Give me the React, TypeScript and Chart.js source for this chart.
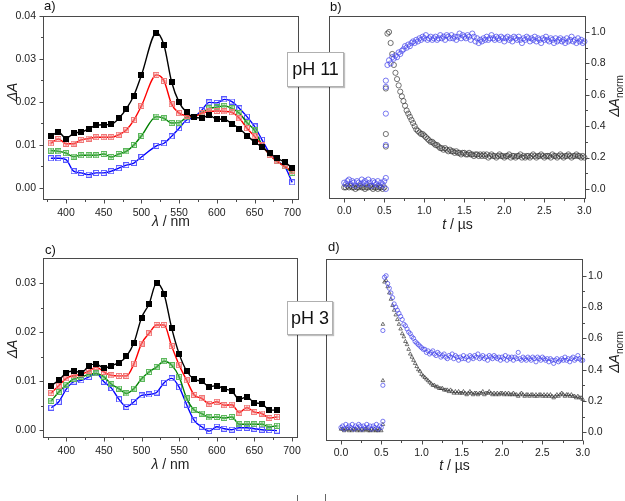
import React, { useEffect, useRef } from 'react';
import { Chart, registerables } from 'chart.js';
Chart.register(...registerables);

const FONT = '"Liberation Sans", Arial, Helvetica, sans-serif';
const FRAME = '#4a4a4a';
const TXT = '#222';

// ---------- Panel a (pH 11 spectra) ----------
const WL_A = [380,390,400,410,420,430,440,450,460,470,480,490,500,520,530,540,550,560,570,580,590,600,610,620,630,640,650,660,670,680,690,700];
const A_BLACK = [0.0120,0.0130,0.0115,0.0127,0.0130,0.0137,0.0146,0.0147,0.0148,0.0162,0.0184,0.0215,0.0262,0.0361,0.0332,0.0247,0.0199,0.0176,0.0164,0.0163,0.0169,0.0160,0.0160,0.0149,0.0138,0.0122,0.0107,0.0095,0.0081,0.0069,0.0060,0.0047];
const A_RED = [0.0104,0.0114,0.0103,0.0103,0.0112,0.0115,0.0118,0.0118,0.0118,0.0124,0.0135,0.0158,0.0191,0.0263,0.0249,0.0195,0.0174,0.0168,0.0166,0.0174,0.0178,0.0179,0.0178,0.0176,0.0162,0.0139,0.0120,0.0099,0.0077,0.0062,0.0050,0.0039];
const A_GREEN = [0.0087,0.0085,0.0081,0.0073,0.0076,0.0076,0.0076,0.0079,0.0072,0.0079,0.0085,0.0100,0.0121,0.0166,0.0162,0.0151,0.0152,0.0164,0.0166,0.0175,0.0185,0.0188,0.0191,0.0185,0.0174,0.0152,0.0134,0.0100,0.0077,0.0062,0.0050,0.0035];
const A_BLUE = [0.0069,0.0069,0.0066,0.0039,0.0035,0.0031,0.0035,0.0035,0.0039,0.0046,0.0053,0.0058,0.0072,0.0098,0.0104,0.0120,0.0139,0.0158,0.0164,0.0181,0.0199,0.0198,0.0206,0.0201,0.0185,0.0166,0.0143,0.0112,0.0081,0.0062,0.0050,0.0013];

// ---------- Panel c (pH 3 spectra) ----------
const WL_C = [380,390,400,410,420,430,440,450,460,470,480,490,500,510,520,530,540,550,560,570,580,590,600,610,620,630,640,650,660,670,680];
const C_BLACK = [0.0091,0.0102,0.0117,0.0121,0.0117,0.0132,0.0135,0.0127,0.0132,0.0138,0.0151,0.0179,0.0230,0.0258,0.0301,0.0278,0.0209,0.0156,0.0121,0.0104,0.0100,0.0089,0.0091,0.0084,0.0080,0.0063,0.0068,0.0056,0.0054,0.0041,0.0041];
const C_RED = [0.0076,0.0091,0.0106,0.0112,0.0114,0.0121,0.0129,0.0119,0.0112,0.0111,0.0111,0.0136,0.0177,0.0198,0.0215,0.0215,0.0172,0.0133,0.0102,0.0072,0.0065,0.0054,0.0058,0.0051,0.0052,0.0036,0.0046,0.0037,0.0034,0.0025,0.0027];
const C_GREEN = [0.0060,0.0078,0.0093,0.0105,0.0109,0.0114,0.0116,0.0109,0.0094,0.0085,0.0075,0.0085,0.0105,0.0119,0.0129,0.0141,0.0133,0.0109,0.0065,0.0041,0.0034,0.0026,0.0027,0.0025,0.0027,0.0012,0.0012,0.0012,0.0012,0.0007,0.0009];
const C_BLUE = [0.0046,0.0058,0.0084,0.0099,0.0102,0.0109,0.0116,0.0099,0.0086,0.0063,0.0048,0.0058,0.0071,0.0073,0.0077,0.0097,0.0106,0.0088,0.0052,0.0020,0.0007,-0.0002,0.0007,0.0003,0.0001,0.0005,0.0005,0.0003,0.0001,0.0000,-0.0001];

// ---------- Kinetics time bases ----------
const T_BASE = [0,0.02,0.04,0.06,0.08,0.1,0.12,0.14,0.16,0.18,0.2,0.22,0.24,0.26,0.28,0.3,0.32,0.34,0.36,0.38,0.4,0.42,0.44,0.46,0.48,0.5];
const T_JUMP = [0.52,0.52,0.52,0.52,0.52,0.52];
const T_POST = [
  0.54,0.56,0.58,0.6,0.62,0.64,0.66,0.68,0.7,0.72,
  0.74,0.76,0.78,0.8,0.82,0.84,0.86,0.88,0.9,0.92,
  0.94,0.96,0.98,1,1.02,1.04,1.06,1.08,1.1,1.12,
  1.14,1.16,1.18,1.2,1.22,1.24,1.26,1.28,1.3,1.32,
  1.34,1.36,1.38,1.4,1.42,1.44,1.46,1.48,1.5,1.52,
  1.54,1.56,1.58,1.6,1.62,1.64,1.66,1.68,1.7,1.72,
  1.74,1.76,1.78,1.8,1.82,1.84,1.86,1.88,1.9,1.92,
  1.94,1.96,1.98,2,2.02,2.04,2.06,2.08,2.1,2.12,
  2.14,2.16,2.18,2.2,2.22,2.24,2.26,2.28,2.3,2.32,
  2.34,2.36,2.38,2.4,2.42,2.44,2.46,2.48,2.5,2.52,
  2.54,2.56,2.58,2.6,2.62,2.64,2.66,2.68,2.7,2.72,
  2.74,2.76,2.78,2.8,2.82,2.84,2.86,2.88,2.9,2.92,
  2.94,2.96,2.98,3];

// ---------- Panel b (pH 11 kinetics) ----------
const B_BLACK_BASE = [0.01,0.01,0.02,0.01,0.02,0.01,0.01,0.00,0.01,0.01,0.02,0.01,0.01,0.00,0.01,0.01,0.02,0.01,0.00,0.01,0.01,0.00,0.01,0.01,0.00,0.01];
const B_BLACK_JUMP = [0.27,0.35,0.64];
const B_BLACK = [
  0.99,1.00,0.93,0.86,0.79,0.74,0.70,0.66,0.62,0.59,
  0.56,0.53,0.50,0.48,0.46,0.44,0.42,0.40,0.38,0.37,
  0.36,0.35,0.35,0.34,0.33,0.32,0.31,0.30,0.30,0.29,
  0.28,0.28,0.27,0.26,0.26,0.25,0.26,0.25,0.24,0.25,
  0.24,0.24,0.23,0.24,0.23,0.23,0.22,0.23,0.23,0.22,
  0.22,0.23,0.22,0.22,0.21,0.22,0.22,0.21,0.22,0.21,
  0.22,0.21,0.22,0.20,0.21,0.22,0.21,0.21,0.20,0.21,
  0.22,0.21,0.21,0.20,0.21,0.21,0.22,0.20,0.21,0.21,
  0.20,0.21,0.21,0.22,0.20,0.21,0.20,0.21,0.21,0.20,
  0.21,0.22,0.21,0.20,0.21,0.21,0.22,0.21,0.20,0.21,
  0.21,0.21,0.20,0.22,0.21,0.21,0.20,0.21,0.22,0.21,
  0.20,0.21,0.21,0.22,0.21,0.20,0.21,0.21,0.22,0.21,
  0.21,0.20,0.21,0.20];
const B_BLUE_BASE = [0.04,0.03,0.05,0.06,0.03,0.05,0.04,0.02,0.05,0.04,0.03,0.06,0.04,0.05,0.03,0.06,0.04,0.02,0.05,0.04,0.03,0.05,0.02,0.04,0.03,0.05];
const B_BLUE_JUMP = [0.00,0.07,0.28,0.48,0.65,0.69];
const B_BLUE = [
  0.79,0.82,0.80,0.84,0.83,0.85,0.84,0.87,0.86,0.88,
  0.89,0.91,0.90,0.92,0.91,0.93,0.94,0.93,0.95,0.94,
  0.96,0.95,0.97,0.96,0.98,0.95,0.96,0.97,0.95,0.96,
  0.97,0.95,0.96,0.98,0.96,0.97,0.95,0.98,0.97,0.96,
  0.98,0.96,0.97,0.95,0.97,0.99,0.96,0.98,0.97,0.96,
  0.98,0.97,0.95,0.99,0.97,0.94,0.96,0.93,0.95,0.94,
  0.96,0.95,0.97,0.95,0.96,0.98,0.96,0.95,0.97,0.96,
  0.95,0.97,0.96,0.94,0.96,0.97,0.95,0.96,0.94,0.97,
  0.96,0.95,0.97,0.95,0.93,0.96,0.95,0.97,0.96,0.94,
  0.96,0.95,0.97,0.94,0.96,0.95,0.93,0.96,0.95,0.97,
  0.95,0.94,0.96,0.95,0.93,0.96,0.94,0.95,0.96,0.94,
  0.95,0.93,0.96,0.94,0.95,0.97,0.94,0.95,0.93,0.96,
  0.94,0.95,0.93,0.94];

// ---------- Panel d (pH 3 kinetics) ----------
const D_BLACK_BASE = [0.02,0.02,0.01,0.02,0.02,0.01,0.02,0.01,0.02,0.02,0.01,0.02,0.01,0.02,0.01,0.02,0.02,0.01,0.01,0.02,0.01,0.02,0.01,0.01,0.02,0.01];
const D_BLACK_JUMP = [0.05,0.33,0.69];
const D_BLACK = [
  0.96,0.97,0.93,0.89,0.85,0.81,0.78,0.75,0.72,0.69,
  0.66,0.63,0.61,0.58,0.56,0.53,0.50,0.48,0.46,0.44,
  0.42,0.40,0.39,0.37,0.36,0.35,0.34,0.33,0.32,0.31,
  0.30,0.30,0.29,0.29,0.28,0.28,0.28,0.27,0.27,0.27,
  0.26,0.27,0.26,0.25,0.26,0.25,0.26,0.25,0.25,0.26,
  0.25,0.24,0.25,0.26,0.25,0.24,0.25,0.25,0.24,0.25,
  0.25,0.26,0.24,0.25,0.25,0.26,0.25,0.24,0.25,0.24,
  0.25,0.24,0.25,0.25,0.24,0.25,0.24,0.25,0.24,0.24,
  0.25,0.24,0.24,0.23,0.24,0.25,0.24,0.23,0.24,0.24,
  0.23,0.24,0.24,0.23,0.24,0.23,0.24,0.24,0.23,0.24,
  0.23,0.24,0.23,0.24,0.23,0.22,0.23,0.24,0.23,0.24,
  0.25,0.24,0.23,0.24,0.24,0.23,0.24,0.23,0.23,0.22,
  0.23,0.22,0.22,0.21];
const D_BLUE_BASE = [0.03,0.04,0.02,0.05,0.03,0.04,0.03,0.05,0.02,0.04,0.03,0.05,0.04,0.02,0.04,0.03,0.05,0.03,0.04,0.02,0.04,0.03,0.05,0.02,0.04,0.03];
const D_BLUE_JUMP = [0.07,0.30,0.65];
const D_BLUE = [
  0.99,1.00,0.95,0.92,0.89,0.86,0.82,0.80,0.78,0.76,
  0.74,0.72,0.69,0.68,0.66,0.64,0.63,0.61,0.60,0.58,
  0.57,0.56,0.55,0.54,0.53,0.53,0.51,0.52,0.50,0.51,
  0.52,0.50,0.49,0.51,0.50,0.48,0.49,0.50,0.48,0.47,
  0.49,0.48,0.50,0.47,0.49,0.48,0.46,0.48,0.47,0.49,
  0.47,0.48,0.46,0.49,0.48,0.47,0.49,0.48,0.50,0.47,
  0.48,0.49,0.47,0.48,0.46,0.49,0.48,0.47,0.49,0.48,
  0.47,0.48,0.46,0.48,0.47,0.49,0.46,0.48,0.47,0.48,
  0.46,0.48,0.47,0.51,0.47,0.46,0.48,0.47,0.46,0.48,
  0.47,0.46,0.48,0.47,0.45,0.48,0.47,0.46,0.48,0.47,
  0.46,0.47,0.45,0.47,0.46,0.44,0.46,0.47,0.45,0.46,
  0.47,0.46,0.48,0.46,0.47,0.45,0.47,0.48,0.46,0.47,
  0.49,0.47,0.46,0.46];

// ---------- Ticks ----------
const WL_TICKS = [400,450,500,550,600,650,700];
const WL_MINOR = [375,425,475,525,575,625,675];
const A_Y_TICKS = [0,0.01,0.02,0.03,0.04];
const A_Y_MINOR = [0.005,0.015,0.025,0.035];
const C_Y_TICKS = [0,0.01,0.02,0.03];
const C_Y_MINOR = [0.005,0.015,0.025];
const T_TICKS = [0,0.5,1,1.5,2,2.5,3];
const T_MINOR = [0.25,0.75,1.25,1.75,2.25,2.75];
const N_TICKS = [0,0.2,0.4,0.6,0.8,1];
const N_MINOR = [0.1,0.3,0.5,0.7,0.9];

type Seg = { t: string; i?: boolean; sub?: boolean };

function pts(xs: number[], ys: number[]) {
  return ys.map((y, i) => ({ x: xs[i], y }));
}

function marker(kind: string): HTMLCanvasElement {
  const s = 6;
  const c = document.createElement('canvas');
  c.width = s; c.height = s;
  const g = c.getContext('2d')!;
  g.lineWidth = 1;
  if (kind === 'black') {
    g.fillStyle = '#000';
    g.fillRect(0, 0, s, s);
  } else if (kind === 'red') {
    g.strokeStyle = '#f07878';
    g.strokeRect(0.5, 0.5, 5, 5);
    g.beginPath(); g.moveTo(3, 1); g.lineTo(3, 5); g.moveTo(1, 3); g.lineTo(5, 3); g.stroke();
  } else if (kind === 'green') {
    g.strokeStyle = '#5cb85c';
    g.strokeRect(0.5, 0.5, 5, 5);
    g.beginPath(); g.moveTo(3, 1); g.lineTo(3, 5); g.moveTo(1, 3); g.lineTo(5, 3); g.stroke();
  } else {
    g.strokeStyle = '#5a5aff';
    g.strokeRect(0.5, 0.5, 5, 5);
  }
  return c;
}

function drawRich(ctx: CanvasRenderingContext2D, segs: Seg[], x: number, y: number, size: number, rotate: boolean) {
  ctx.save();
  ctx.translate(x, y);
  if (rotate) ctx.rotate(-Math.PI / 2);
  const parts = segs.map((s) => {
    const fs = s.sub ? size * 0.72 : size;
    const font = `${s.i ? 'italic ' : ''}${fs}px ${FONT}`;
    ctx.font = font;
    return { s, font, w: ctx.measureText(s.t).width };
  });
  const total = parts.reduce((a, p) => a + p.w, 0);
  let cx = -total / 2;
  ctx.textBaseline = 'middle';
  ctx.textAlign = 'left';
  ctx.fillStyle = TXT;
  for (const p of parts) {
    ctx.font = p.font;
    ctx.fillText(p.s.t, cx, p.s.sub ? size * 0.35 : 0);
    cx += p.w;
  }
  ctx.restore();
}

interface DecorCfg {
  xMajor: number[]; xMinor: number[]; yMajor: number[]; yMinor: number[];
  yRight: boolean; label: string; labelX: number; labelY: number;
  xTitle: Seg[]; xTitleY: number; yTitle: Seg[]; yTitleX: number; yTitleY: number;
}

function decorPlugin(cfg: DecorCfg) {
  return {
    id: 'decor',
    afterDraw(chart: any) {
      const { ctx, chartArea: a, scales } = chart;
      const xs = scales.x, ys = scales.y;
      ctx.save();
      ctx.strokeStyle = FRAME;
      ctx.lineWidth = 1;
      const L = Math.round(a.left) + 0.5, R = Math.round(a.right) - 0.5;
      const T = Math.round(a.top) + 0.5, B = Math.round(a.bottom) - 0.5;
      ctx.strokeRect(L, T, R - L, B - T);
      ctx.beginPath();
      const xt = (v: number, len: number) => { const p = Math.round(xs.getPixelForValue(v)) + 0.5; ctx.moveTo(p, B); ctx.lineTo(p, B + len); };
      const yt = (v: number, len: number) => {
        const p = Math.round(ys.getPixelForValue(v)) + 0.5;
        if (cfg.yRight) { ctx.moveTo(R, p); ctx.lineTo(R + len, p); } else { ctx.moveTo(L, p); ctx.lineTo(L - len, p); }
      };
      cfg.xMajor.forEach((v) => xt(v, 4));
      cfg.xMinor.forEach((v) => xt(v, 2.5));
      cfg.yMajor.forEach((v) => yt(v, 4));
      cfg.yMinor.forEach((v) => yt(v, 2.5));
      ctx.stroke();
      ctx.font = `13px ${FONT}`;
      ctx.fillStyle = '#111';
      ctx.textAlign = 'left';
      ctx.textBaseline = 'middle';
      ctx.fillText(cfg.label, cfg.labelX, cfg.labelY);
      drawRich(ctx, cfg.xTitle, (a.left + a.right) / 2, cfg.xTitleY, 14, false);
      drawRich(ctx, cfg.yTitle, cfg.yTitleX, cfg.yTitleY, 14, true);
      ctx.restore();
    },
  };
}

function axis(opts: {
  min: number; max: number; ticks: number[]; digits: number; pad: number;
  size: (s: any) => void; position?: string;
}) {
  return {
    type: 'linear',
    position: opts.position,
    min: opts.min,
    max: opts.max,
    grid: { display: false, drawTicks: false },
    border: { display: false },
    ticks: {
      padding: opts.pad,
      autoSkip: false,
      maxRotation: 0,
      color: TXT,
      font: { family: FONT, size: 10.5 },
      callback: (v: any) => Number(v).toFixed(opts.digits),
    },
    afterBuildTicks: (s: any) => { s.ticks = opts.ticks.map((v) => ({ value: v })); },
    afterFit: opts.size,
  };
}

const common = {
  responsive: false,
  animation: false,
  devicePixelRatio: 1,
  events: [],
  plugins: { legend: { display: false }, tooltip: { enabled: false } },
};

function spectraDatasets(xs: number[], black: number[], red: number[], green: number[], blue: number[]) {
  const mk = { black: marker('black'), red: marker('red'), green: marker('green'), blue: marker('blue') };
  const line = (data: number[], col: string, pt: HTMLCanvasElement) => ({
    data: pts(xs, data),
    showLine: true,
    borderColor: col,
    borderWidth: 1.4,
    pointStyle: pt,
    pointRadius: 3,
    tension: 0.4,
    cubicInterpolationMode: 'monotone',
    clip: false,
  });
  return [line(black, '#000000', mk.black), line(red, '#ff0000', mk.red), line(green, '#008000', mk.green), line(blue, '#0000ff', mk.blue)];
}

function buildA() {
  return {
    type: 'scatter',
    data: { datasets: spectraDatasets(WL_A, A_BLACK, A_RED, A_GREEN, A_BLUE) },
    options: {
      ...common,
      layout: { padding: { left: 0, top: 16, right: 13, bottom: 0 } },
      scales: {
        x: axis({ min: 369.5, max: 709, ticks: WL_TICKS, digits: 0, pad: 7, size: (s) => { s.height = 35; } }),
        y: axis({ min: -0.0028, max: 0.04, ticks: A_Y_TICKS, digits: 2, pad: 7, size: (s) => { s.width = 43; } }),
      },
    },
    plugins: [decorPlugin({
      xMajor: WL_TICKS, xMinor: WL_MINOR, yMajor: A_Y_TICKS, yMinor: A_Y_MINOR, yRight: false,
      label: 'a)', labelX: 44, labelY: 6,
      xTitle: [{ t: 'λ', i: true }, { t: ' / nm' }], xTitleY: 222,
      yTitle: [{ t: 'ΔA', i: true }], yTitleX: 13, yTitleY: 92,
    })],
  };
}

function buildC() {
  return {
    type: 'scatter',
    data: { datasets: spectraDatasets(WL_C, C_BLACK, C_RED, C_GREEN, C_BLUE) },
    options: {
      ...common,
      layout: { padding: { left: 0, top: 23, right: 14, bottom: 0 } },
      scales: {
        x: axis({ min: 369, max: 708, ticks: WL_TICKS, digits: 0, pad: 7, size: (s) => { s.height = 63; } }),
        y: axis({ min: -0.0016, max: 0.0352, ticks: C_Y_TICKS, digits: 2, pad: 7, size: (s) => { s.width = 43; } }),
      },
    },
    plugins: [decorPlugin({
      xMajor: WL_TICKS, xMinor: WL_MINOR, yMajor: C_Y_TICKS, yMinor: C_Y_MINOR, yRight: false,
      label: 'c)', labelX: 45, labelY: 15,
      xTitle: [{ t: 'λ', i: true }, { t: ' / nm' }], xTitleY: 230,
      yTitle: [{ t: 'ΔA', i: true }], yTitleX: 13, yTitleY: 114,
    })],
  };
}

function kineticsDatasets(blueBase: number[], blueJump: number[], blue: number[], blackBase: number[], blackJump: number[], black: number[], blackStyle: string, r: number) {
  return [
    {
      data: [...pts(T_BASE, blueBase), ...pts(T_JUMP, blueJump), ...pts(T_POST, blue)],
      pointStyle: 'circle', pointRadius: r, pointBorderWidth: 0.8,
      pointBorderColor: 'rgba(70,70,235,0.9)', pointBackgroundColor: 'rgba(0,0,0,0)',
      clip: false,
    },
    {
      data: [...pts(T_BASE, blackBase), ...pts(T_JUMP, blackJump), ...pts(T_POST, black)],
      pointStyle: blackStyle, pointRadius: r, pointBorderWidth: 0.8,
      pointBorderColor: 'rgba(50,50,50,0.85)', pointBackgroundColor: 'rgba(0,0,0,0)',
      clip: false,
    },
  ];
}

function buildB() {
  return {
    type: 'scatter',
    data: { datasets: kineticsDatasets(B_BLUE_BASE, B_BLUE_JUMP, B_BLUE, B_BLACK_BASE, B_BLACK_JUMP, B_BLACK, 'circle', 2.6) },
    options: {
      ...common,
      layout: { padding: { left: 17, top: 16, right: 0, bottom: 0 } },
      scales: {
        x: axis({ min: -0.19, max: 3.02, ticks: T_TICKS, digits: 1, pad: 6, size: (s) => { s.height = 36; } }),
        y: axis({ min: -0.064, max: 1.102, ticks: N_TICKS, digits: 1, pad: 5, position: 'right', size: (s) => { s.width = 39; } }),
      },
    },
    plugins: [decorPlugin({
      xMajor: T_TICKS, xMinor: T_MINOR, yMajor: N_TICKS, yMinor: N_MINOR, yRight: true,
      label: 'b)', labelX: 18, labelY: 7,
      xTitle: [{ t: 't', i: true }, { t: ' / µs' }], xTitleY: 225,
      yTitle: [{ t: 'ΔA', i: true }, { t: 'norm', sub: true }], yTitleX: 303, yTitleY: 96,
    })],
  };
}

function buildD() {
  return {
    type: 'scatter',
    data: { datasets: kineticsDatasets(D_BLUE_BASE, D_BLUE_JUMP, D_BLUE, D_BLACK_BASE, D_BLACK_JUMP, D_BLACK, 'triangle', 2.1) },
    options: {
      ...common,
      layout: { padding: { left: 14, top: 24, right: 0, bottom: 0 } },
      scales: {
        x: axis({ min: -0.186, max: 3.004, ticks: T_TICKS, digits: 1, pad: 6, size: (s) => { s.height = 60; } }),
        y: axis({ min: -0.056, max: 1.107, ticks: N_TICKS, digits: 1, pad: 5, position: 'right', size: (s) => { s.width = 42; } }),
      },
    },
    plugins: [decorPlugin({
      xMajor: T_TICKS, xMinor: T_MINOR, yMajor: N_TICKS, yMinor: N_MINOR, yRight: true,
      label: 'd)', labelX: 16, labelY: 12,
      xTitle: [{ t: 't', i: true }, { t: ' / µs' }], xTitleY: 231,
      yTitle: [{ t: 'ΔA', i: true }, { t: 'norm', sub: true }], yTitleX: 303, yTitleY: 117,
    })],
  };
}

function ChartCanvas(props: { left: number; top: number; width: number; height: number; build: () => any }) {
  const ref = useRef<HTMLCanvasElement>(null);
  useEffect(() => {
    const chart = new Chart(ref.current as HTMLCanvasElement, props.build());
    return () => chart.destroy();
  }, []);
  return (
    <canvas
      ref={ref}
      width={props.width}
      height={props.height}
      style={{ position: 'absolute', left: props.left, top: props.top, width: props.width, height: props.height }}
    />
  );
}

function boxStyle(left: number, top: number, width: number, height: number): React.CSSProperties {
  return {
    position: 'absolute', left, top, width, height, boxSizing: 'border-box',
    background: '#fff', border: '1px solid #b0b0b0', boxShadow: '1px 1px 1px rgba(0,0,0,0.25)',
    display: 'flex', alignItems: 'center', justifyContent: 'center',
    fontFamily: FONT, fontSize: 18, color: '#111', zIndex: 2, whiteSpace: 'nowrap',
  };
}

export default function App() {
  return (
    <div style={{ position: 'absolute', left: 0, top: 0, width: 625, height: 501, background: '#fff', overflow: 'hidden' }}>
      <ChartCanvas left={0} top={0} width={312} height={235} build={buildA} />
      <ChartCanvas left={312} top={0} width={313} height={235} build={buildB} />
      <ChartCanvas left={0} top={235} width={312} height={266} build={buildC} />
      <ChartCanvas left={312} top={235} width={313} height={266} build={buildD} />
      <div style={boxStyle(287, 52, 57, 35)}>pH 11</div>
      <div style={boxStyle(287, 301, 46, 34)}>pH 3</div>
      <div style={{ position: 'absolute', left: 297, top: 495, width: 1, height: 6, background: '#666' }} />
      <div style={{ position: 'absolute', left: 325, top: 494, width: 1, height: 7, background: '#666' }} />
    </div>
  );
}
